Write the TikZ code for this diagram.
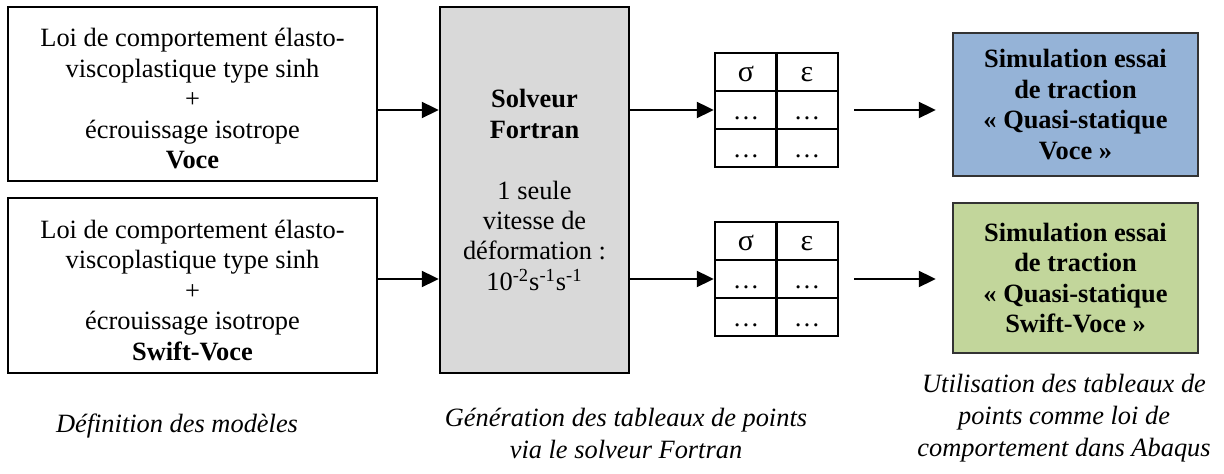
\documentclass[tikz,border=0pt]{standalone}
\usepackage{fontspec}
\setmainfont{Liberation Serif}
\usetikzlibrary{arrows.meta}

\definecolor{azul}{RGB}{149,179,215}
\definecolor{verde}{RGB}{194,214,155}
\definecolor{gris}{RGB}{217,217,217}

\tikzset{
    caja/.style={draw, line width=1.2pt, align=center, inner sep=0pt},
    flecha/.style={line width=1pt, -{Triangle[length=8.5pt,width=8pt]}},
    griego/.style={anchor=base, font=\fontsize{15pt}{15pt}\selectfont},
    leyenda/.style={align=center, font=\itshape\fontsize{13.2pt}{16pt}\selectfont}
}

\begin{document}
\fontsize{13.2pt}{15.2pt}\selectfont
\begin{tikzpicture}[x=0.5pt,y=-0.5pt]
        \useasboundingbox (0,0) rectangle (1224,474);
        % Modelos
        \node[caja, minimum width=184.5pt, minimum height=87pt] (mod1) at (192.5,94)
            {\rule{0pt}{14pt}Loi de comportement élasto-\\viscoplastique type sinh\\+\\écrouissage isotrope\\\textbf{Voce}};
        \node[caja, minimum width=184.5pt, minimum height=87.5pt] (mod2) at (192.5,285.5)
            {\rule{0pt}{14pt}Loi de comportement élasto-\\viscoplastique type sinh\\+\\écrouissage isotrope\\\textbf{Swift-Voce}};

        % Solver
        \node[caja, fill=gris, minimum width=94.5pt, minimum height=183pt] (solver) at (534.5,190)
            {\textbf{Solveur}\\\textbf{Fortran}\\[15.2pt]1 seule\\vitesse de\\déformation :\\10\textsuperscript{-2}s\textsuperscript{-1}s\textsuperscript{-1}};

        % Tablas
        \foreach \t/\yc in {t1/110,t2/279} {
            \node[caja, minimum width=61.5pt, minimum height=57pt] (\t) at (776.5,\yc) {};
            \draw[line width=1.2pt] (\t.north) -- (\t.south);
            \draw[line width=1.2pt] (715,\yc-19) -- (838,\yc-19);
            \draw[line width=1.2pt] (715,\yc+19) -- (838,\yc+19);
            \node[griego] (\t-s) at (746,\yc-28) {σ};
            \node[griego] (\t-e) at (807,\yc-28) {ε};
            \foreach \yb in {10,48} {
                \node[anchor=base] at (746,\yc+\yb) {…};
                \node[anchor=base] at (807,\yc+\yb) {…};
            }
        }

        % Simulaciones
        \node[caja, draw=black!80, fill=azul, minimum width=122.5pt, minimum height=71.5pt, font=\bfseries] (sim1) at (1075.5,104.5)
            {Simulation essai\\de traction\\« Quasi-statique\\Voce »};
        \node[caja, draw=black!80, fill=verde, minimum width=122.5pt, minimum height=75pt, font=\bfseries] (sim2) at (1075.5,278)
            {Simulation essai\\de traction\\« Quasi-statique\\Swift-Voce »};

        % Flechas
        \draw[flecha] (mod1.east |- t1) -- (solver.west |- t1);
        \draw[flecha] (mod2.east |- t2) -- (solver.west |- t2);
        \draw[flecha] (solver.east |- t1) -- (t1.west);
        \draw[flecha] (solver.east |- t2) -- (t2.west);
        \draw[flecha, shorten <=7.5pt, shorten >=8pt] (t1.east) -- (sim1.west |- t1);
        \draw[flecha, shorten <=7.5pt, shorten >=8pt] (t2.east) -- (sim2.west |- t2);

        % Leyendas
        \node[leyenda] (ley1) at (177,426) {Définition des modèles};
        \node[leyenda] (ley2) at (626,433) {Génération des tableaux de points\\via le solveur Fortran};
        \node[leyenda] (ley3) at (1064,418) {Utilisation des tableaux de\\points comme loi de\\comportement dans Abaqus};
\end{tikzpicture}
\end{document}
